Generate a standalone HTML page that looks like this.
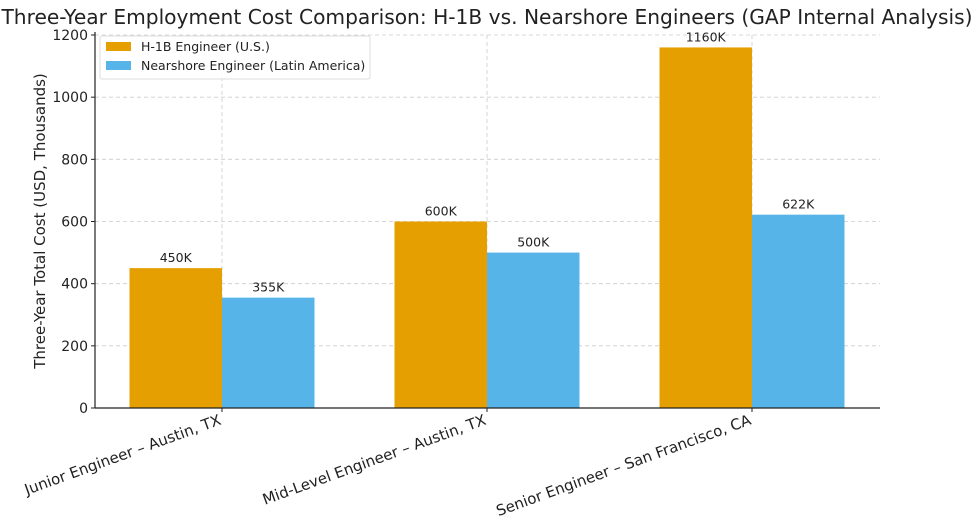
<!DOCTYPE html>
<html><head><meta charset="utf-8"><style>
html,body{margin:0;padding:0;background:#fff;}
svg{display:block;font-family:"DejaVu Sans","Liberation Sans",sans-serif;}
</style></head><body>
<svg id="chart" width="973" height="525" viewBox="0 0 973 525">
<text x="487" y="24" text-anchor="middle" font-size="20.2" fill="#222">Three-Year Employment Cost Comparison: H-1B vs. Nearshore Engineers (GAP Internal Analysis)</text>
<text transform="translate(45,221) rotate(-90)" text-anchor="middle" font-size="15" fill="#222">Three-Year Total Cost (USD, Thousands)</text>
<g id="grid"></g><g id="bars"></g><g id="axes"></g>
<g>
<rect x="100" y="36" width="270" height="43" fill="#fff" fill-opacity="0.85" stroke="#ddd" rx="2"/>
<rect x="106" y="42" width="25" height="9" fill="#E69F00"/>
<text x="141" y="51" font-size="12.5" fill="#222">H-1B Engineer (U.S.)</text>
<rect x="106" y="61" width="25" height="9" fill="#56B4E9"/>
<text x="141" y="70" font-size="12.5" fill="#222">Nearshore Engineer (Latin America)</text>
</g>
</svg>
<script>
const categories = ["Junior Engineer – Austin, TX","Mid-Level Engineer – Austin, TX","Senior Engineer – San Francisco, CA"];
const h1bValues = [450, 600, 1160];
const nearshoreValues = [355, 500, 622];
const yTicks = [0,200,400,600,800,1000,1200];
const ns="http://www.w3.org/2000/svg";
const L=95,R=880,B=408,T=35,yMax=1200;
const y=v=>B-(v/yMax)*(B-T);
const x0=222,step=265,bw=92.5;
const cx=i=>x0+i*step;
function mk(tag,attrs,parent,text){const e=document.createElementNS(ns,tag);for(const k in attrs)e.setAttribute(k,attrs[k]);if(text!==undefined)e.textContent=text;parent.appendChild(e);return e;}
const grid=document.getElementById('grid'),bars=document.getElementById('bars'),axes=document.getElementById('axes');
yTicks.forEach(t=>{
  if(t>0){const g=mk('line',{x1:L,x2:R,y1:y(t),y2:y(t),stroke:'#ccc','stroke-dasharray':'4,3','stroke-width':0.8},grid);
  
  }
  mk('line',{x1:L-4,x2:L,y1:y(t),y2:y(t),stroke:'#222'},axes);
  const lb=mk('text',{x:L-7,y:y(t)+5,'text-anchor':'end','font-size':14,fill:'#222'},axes,String(t));
  
  
});
categories.forEach((c,i)=>{
  const g=mk('line',{x1:cx(i),x2:cx(i),y1:T,y2:B,stroke:'#ccc','stroke-dasharray':'4,3','stroke-width':0.8},grid);
  
  
  const r1=mk('rect',{x:cx(i)-bw,y:y(h1bValues[i]),width:bw,height:B-y(h1bValues[i]),fill:'#E69F00'},bars);
  
  
  const r2=mk('rect',{x:cx(i),y:y(nearshoreValues[i]),width:bw,height:B-y(nearshoreValues[i]),fill:'#56B4E9'},bars);
  
  
  const t1=mk('text',{x:cx(i)-bw/2,y:y(h1bValues[i])-6,'text-anchor':'middle','font-size':12.5,fill:'#222'},bars,h1bValues[i]+'K');
  
  
  const t2=mk('text',{x:cx(i)+bw/2,y:y(nearshoreValues[i])-6,'text-anchor':'middle','font-size':12.5,fill:'#222'},bars,nearshoreValues[i]+'K');
  
  
  mk('line',{x1:cx(i),x2:cx(i),y1:B,y2:B+4,stroke:'#222'},axes);
  const xl=mk('text',{transform:`translate(${cx(i)},${B+16}) rotate(-20)`,'text-anchor':'end','font-size':15,fill:'#222'},axes,c);
  
  
});
mk('line',{x1:L,x2:L,y1:T-3,y2:B,stroke:'#222','stroke-width':1.2},axes);
mk('line',{x1:L,x2:R,y1:B,y2:B,stroke:'#222','stroke-width':1.2},axes);
</script>
</body></html>
